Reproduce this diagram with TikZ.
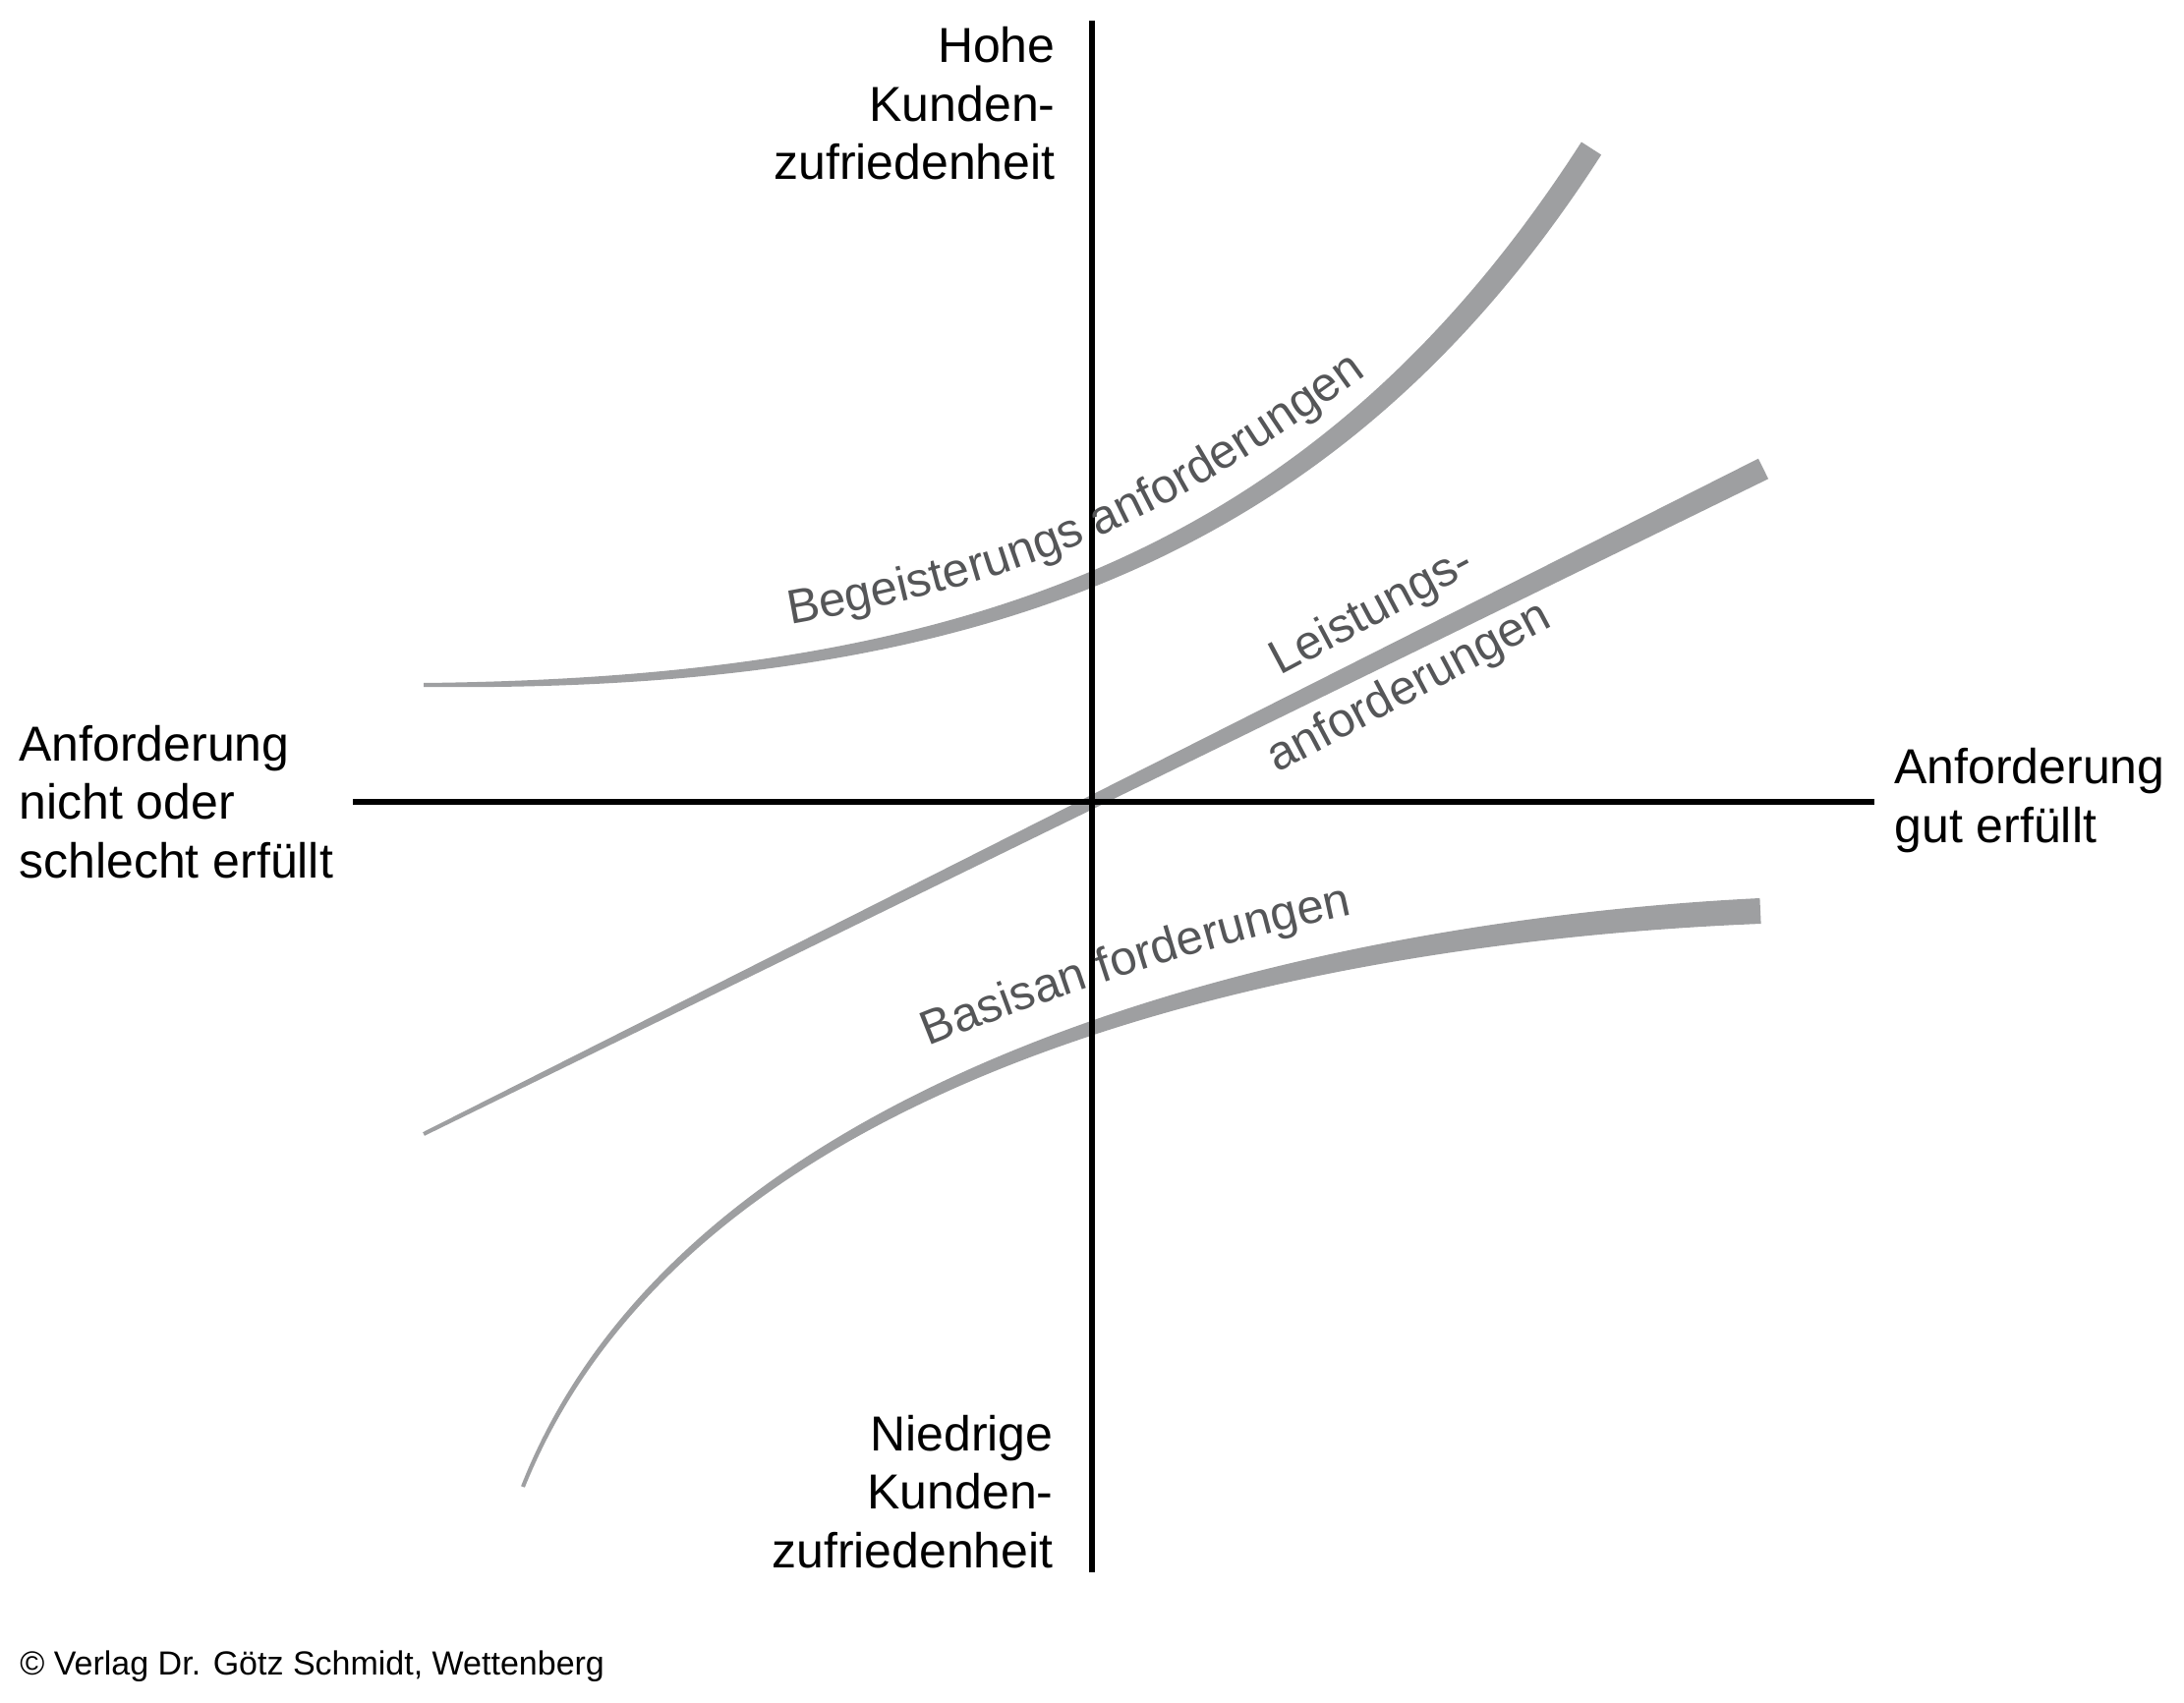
\documentclass[tikz,border=0pt]{standalone}
\usepackage{fontspec}
\setmainfont{Liberation Sans}
\usetikzlibrary{decorations.text}
\definecolor{curvegray}{RGB}{158,159,161}
\definecolor{labelgray}{RGB}{85,86,88}
\newcommand\axfont{\fontsize{25}{29.75}\selectfont}
\newcommand\gfont{\fontsize{24.5}{29}\selectfont}
\newcommand\cpfont{\fontsize{17}{20}\selectfont}
\begin{document}
\begin{tikzpicture}[x=0.5pt,y=-0.5pt,
  axis/.style={line width=3pt, black},
  band/.style={fill=curvegray, draw=none},
  axlabel/.style={font=\axfont, inner sep=0pt, text=black},
  glabel/.style={font=\gfont, inner sep=0pt, text=labelgray},
  textpath/.style={decorate, decoration={text along path, text color=labelgray, text align=left, text={|\gfont|#1}}}]
\useasboundingbox (0,0) rectangle (2222,1733);

% tapered curves
% Begeisterungsanforderungen
\path[band] (431,695) .. controls (981,689) and (1338.9,564.5) .. (1608.9,144.5)
  -- (1629.1,157.5) .. controls (1359.1,577.5) and (981,705) .. (431,699) -- cycle;
% Leistungsanforderungen
\path[band] (430.1,1152.2) -- (1788.9,466.7) -- (1799.1,487.3) -- (431.9,1155.8) -- cycle;
% Basisanforderungen
\path[band] (530.1,1512.3) .. controls (704.3,1069.5) and (1365.5,935) .. (1790.4,914)
  -- (1791.6,940) .. controls (1366.5,957) and (711.7,1072.5) .. (533.9,1513.7) -- cycle;

% axes
\coordinate (xL) at (359,816);
\coordinate (xR) at (1907,816);
\coordinate (yT) at (1111,21);
\coordinate (yB) at (1111,1600);
\draw[axis] (xL) -- (xR);
\draw[axis] (yT) -- (yB);

% curve labels
\path[textpath={Begeisterungs anforderungen}]
  (804,635) .. controls (1048,592) and (1178,536) .. (1392,380) -- (1447,340);
\path[textpath={Basisan forderungen}]
  (945,1065) .. controls (1084,1009) and (1231,961) .. (1378,930) -- (1440,917);
\node[glabel, anchor=base west, rotate=28] (leis1) at (1302,688) {Leistungs-};
\node[glabel, anchor=base west, rotate=28] (leis2) at (1299,787) {anforderungen};

% axis labels (anchor = baseline of the last line)
\node[axlabel, align=right, anchor=base east] (top) at (1074,183) {Hohe\\Kunden-\\zufriedenheit};
\node[axlabel, align=right, anchor=base east] (bottom) at (1072,1595) {Niedrige\\Kunden-\\zufriedenheit};
\node[axlabel, align=left, anchor=base west] (left) at (19,893) {Anforderung\\nicht oder\\schlecht erfüllt};
\node[axlabel, align=left, anchor=base west] (right) at (1927,857) {Anforderung\\gut erfüllt};

% copyright
\node[font=\cpfont, inner sep=0pt, anchor=base west] (copy) at (20,1704) {© Verlag Dr. Götz Schmidt, Wettenberg};
\end{tikzpicture}
\end{document}
